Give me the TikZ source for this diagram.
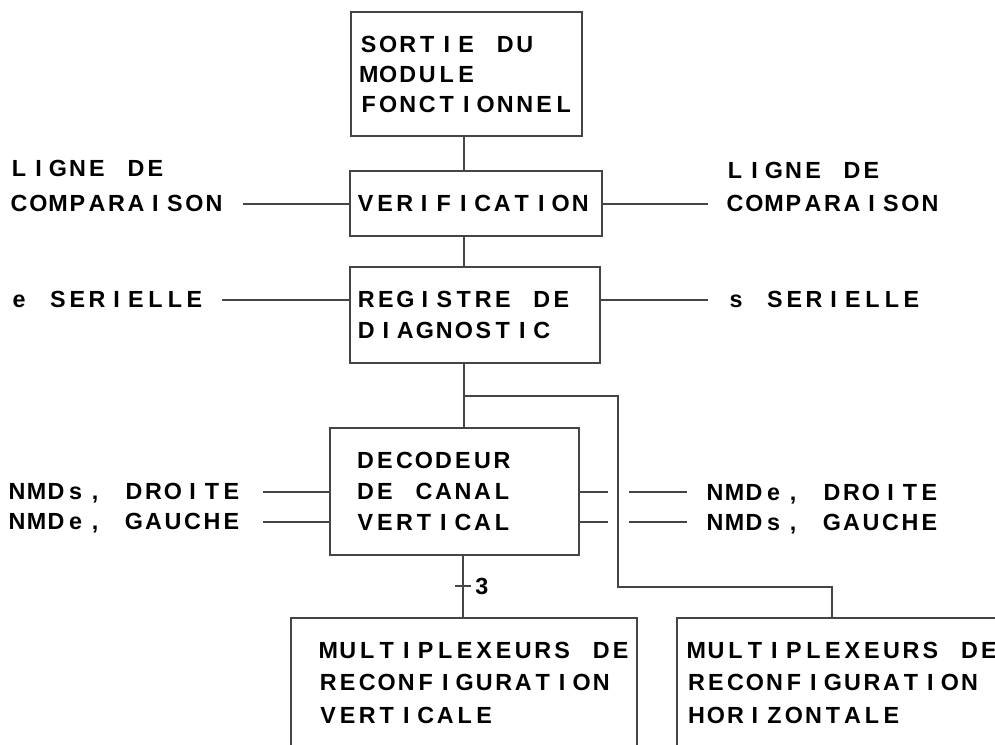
\documentclass[tikz,border=0pt]{standalone}
\usepackage{fontspec}
\setmainfont{Liberation Sans}
\newlength\chw
\setlength\chw{14.625pt}
\ExplSyntaxOn
\cs_new_protected:Npn \mt #1 { \str_map_inline:nn {#1} { \makebox[\chw][c]{##1} } }
\ExplSyntaxOff
\definecolor{lc}{HTML}{454545}
\tikzset{
  box/.style={draw=lc, line width=1.6pt, rectangle, inner xsep=0pt, inner ysep=0pt,
    align=left, text height=12.53pt, font=\fontsize{17.5pt}{#1}\selectfont\bfseries},
  box/.default=22.5pt,
  lbl/.style={inner sep=0pt, anchor=base west, align=left, text width=187.5pt,
    font=\fontsize{17.5pt}{#1}\selectfont\bfseries},
  lbl/.default=22.5pt,
  wire/.style={draw=lc, line width=1.5pt},
}
\begin{document}
\begin{tikzpicture}[x=0.75pt,y=-0.75pt]
\useasboundingbox (0,0) rectangle (995,744);
\clip (0,0) rectangle (995,744);
% boxes
\node[box=22.5pt, minimum width=173.25pt, minimum height=93pt, text width=161.25pt, text depth=45pt]
  (top) at (466.5,74) {\mt{SORTIE DU}\\\mt{MODULE}\\\mt{FONCTIONNEL}};
\node[box, minimum width=189pt, minimum height=48.75pt, text width=180pt, text depth=0pt]
  (verif) at (476,203.5) {\mt{VERIFICATION}};
\node[box=23.25pt, minimum width=187.5pt, minimum height=72pt, text width=177.6pt, text depth=23.25pt]
  (reg) at (475,315) {\mt{REGISTRE DE}\\\mt{DIAGNOSTIC}};
\node[box=23.25pt, minimum width=186.75pt, minimum height=95.25pt, text width=148.2pt, text depth=46.5pt]
  (dec) at (454.5,491.5) {\mt{DECODEUR}\\\mt{DE CANAL}\\\mt{VERTICAL}};
\node[box=24.375pt, minimum width=259.5pt, minimum height=96.75pt, text width=218.25pt, text depth=48.75pt]
  (muxV) at (464,682.5) {\mt{MULTIPLEXEURS DE}\\\mt{RECONFIGURATION}\\\mt{VERTICALE}};
\node[box=24.375pt, minimum width=272.25pt, minimum height=96.75pt, text width=257.7pt, text depth=48.75pt]
  (muxH) at (858.5,682.5) {\mt{MULTIPLEXEURS DE}\\\mt{RECONFIGURATION}\\\mt{HORIZONTALE}};
% labels
\node[lbl=26.25pt] (lcL) at (9,176.7) {\mt{LIGNE DE}\\\mt{COMPARAISON}};
\node[lbl=25pt] (lcR) at (725,178.3) {\mt{LIGNE DE}\\\mt{COMPARAISON}};
\node[lbl] (eS) at (9,307.35) {\mt{e SERIELLE}};
\node[lbl] (sS) at (726,307.35) {\mt{s SERIELLE}};
\node[lbl=22.8pt] (nL) at (7,499.5) {\mt{NMDs, DROITE}\\\mt{NMDe, GAUCHE}};
\node[lbl=22.75pt] (nR) at (705,500) {\mt{NMDe, DROITE}\\\mt{NMDs, GAUCHE}};
\node[inner sep=0pt, anchor=base west, font=\fontsize{17.5pt}{22.5pt}\selectfont\bfseries] (n3) at (475,594.35) {3};
% spine
\coordinate (sp) at (464,0);
\draw[wire] (top.south -| sp) -- (verif.north -| sp);
\draw[wire] (verif.south -| sp) -- (reg.north -| sp);
\draw[wire] (reg.south -| sp) -- (dec.north -| sp);
\coordinate (br1) at (464,396);
\coordinate (br2) at (618,396);
\coordinate (br3) at (618,587);
\coordinate (br4) at (832,587);
\draw[wire] (br1) -- (br2) -- (br3) -- (br4) -- (muxH.north -| br4);
\coordinate (dv) at (463,0);
\draw[wire] (dec.south -| dv) -- (muxV.north -| dv);
\coordinate (t1) at (455,586);
\coordinate (t2) at (471,586);
\draw[wire] (t1) -- (t2);
% side lines
\coordinate (cL) at (243,203.5);
\coordinate (cR) at (708,203.5);
\draw[wire] (cL) -- (verif.west);
\draw[wire] (verif.east) -- (cR);
\coordinate (eL) at (222,299.5);
\coordinate (sR) at (708,299.5);
\draw[wire] (eL) -- (eL -| reg.west);
\draw[wire] (sR -| reg.east) -- (sR);
\coordinate (nL1) at (263,491.5);
\coordinate (nL2) at (263,522);
\draw[wire] (nL1) -- (nL1 -| dec.west);
\draw[wire] (nL2) -- (nL2 -| dec.west);
\coordinate (tR1) at (608,491.5);
\coordinate (tR2) at (608,522);
\draw[wire] (tR1 -| dec.east) -- (tR1);
\draw[wire] (tR2 -| dec.east) -- (tR2);
\coordinate (nR1a) at (629,491.5);
\coordinate (nR1b) at (687,491.5);
\coordinate (nR2a) at (629,522);
\coordinate (nR2b) at (687,522);
\draw[wire] (nR1a) -- (nR1b);
\draw[wire] (nR2a) -- (nR2b);
\end{tikzpicture}
\end{document}
